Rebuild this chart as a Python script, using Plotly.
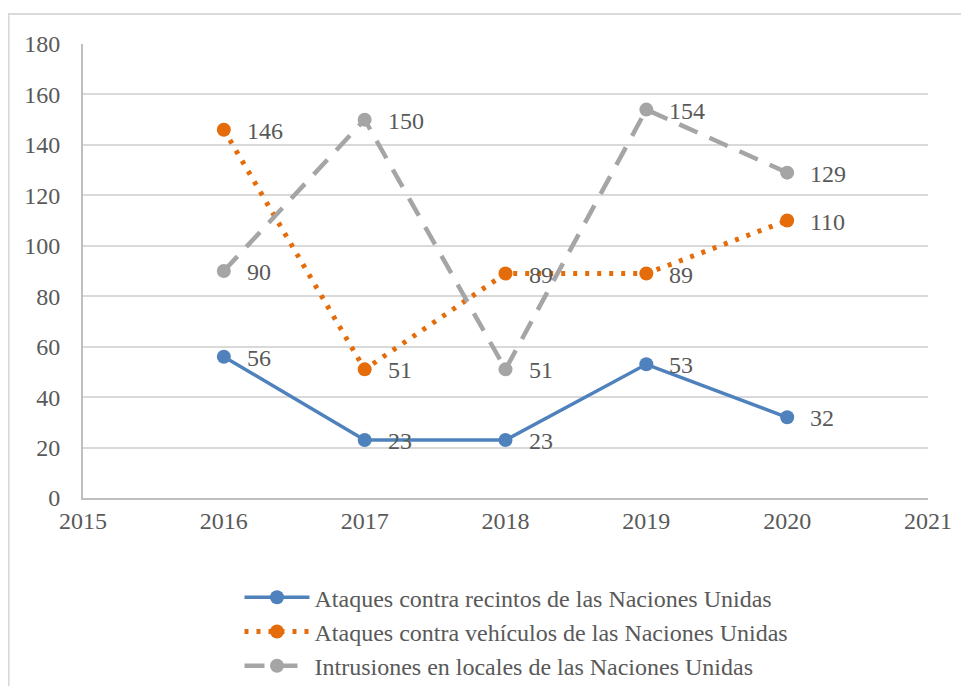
import plotly.graph_objects as go

years = [2016, 2017, 2018, 2019, 2020]
recintos = [56, 23, 23, 53, 32]
vehiculos = [146, 51, 89, 89, 110]
intrusiones = [90, 150, 51, 154, 129]

names = [
    "Ataques contra recintos de las Naciones Unidas",
    "Ataques contra vehículos de las Naciones Unidas",
    "Intrusiones en locales de las Naciones Unidas",
]
colors = ["#4F81BD", "#E46C0A", "#A5A5A5"]

FONT = "Liberation Serif, Times New Roman, serif"
TXT = "#595959"

fig = go.Figure()
series = [
    (recintos, names[0], colors[0], "solid", 3.5),
    (vehiculos, names[1], colors[1], "4px,8px", 5),
    (intrusiones, names[2], colors[2], "20px,13px", 4.5),
]
for vals, name, col, dash, w in series:
    fig.add_trace(go.Scatter(
        x=years, y=vals, name=name, mode="lines+markers",
        line=dict(color=col, width=w, dash=dash),
        marker=dict(color=col, size=14),
    ))
    # data labels to the right of each point
    for xv, yv in zip(years, vals):
        fig.add_annotation(x=xv, y=yv, text=str(yv), showarrow=False,
                           xanchor="left", yanchor="middle", xshift=21, yshift=-1,
                           font=dict(family=FONT, size=24, color=TXT))

# outer frame of the chart
fig.add_shape(type="rect", xref="paper", yref="paper",
              x0=-0.088, x1=1.2, y0=-0.8, y1=1.066,
              line=dict(color="#D9D9D9", width=2), layer="below")

# figure is taller than the window so the legend fits without pushing the plot up
fig.update_layout(
    width=961, height=740,
    margin=dict(l=75, r=41, t=36, b=250),
    plot_bgcolor="white", paper_bgcolor="white",
    font=dict(family=FONT, size=24, color=TXT),
    showlegend=True,
    legend=dict(x=0.513, xanchor="center", y=-0.17, yanchor="top",
                font=dict(family=FONT, size=24, color=TXT),
                tracegroupgap=0, itemwidth=65),
)
fig.update_xaxes(range=[2015, 2021], dtick=1, tick0=2015, showgrid=False,
                 showline=True, linecolor="#BFBFBF", linewidth=2,
                 ticks="", zeroline=False)
fig.update_yaxes(range=[0, 180], dtick=20, showgrid=True, gridcolor="#D9D9D9",
                 gridwidth=2, showline=True, linecolor="#BFBFBF", linewidth=2,
                 ticks="", zeroline=False, ticklabelstandoff=16)

fig.write_html("out.html")
